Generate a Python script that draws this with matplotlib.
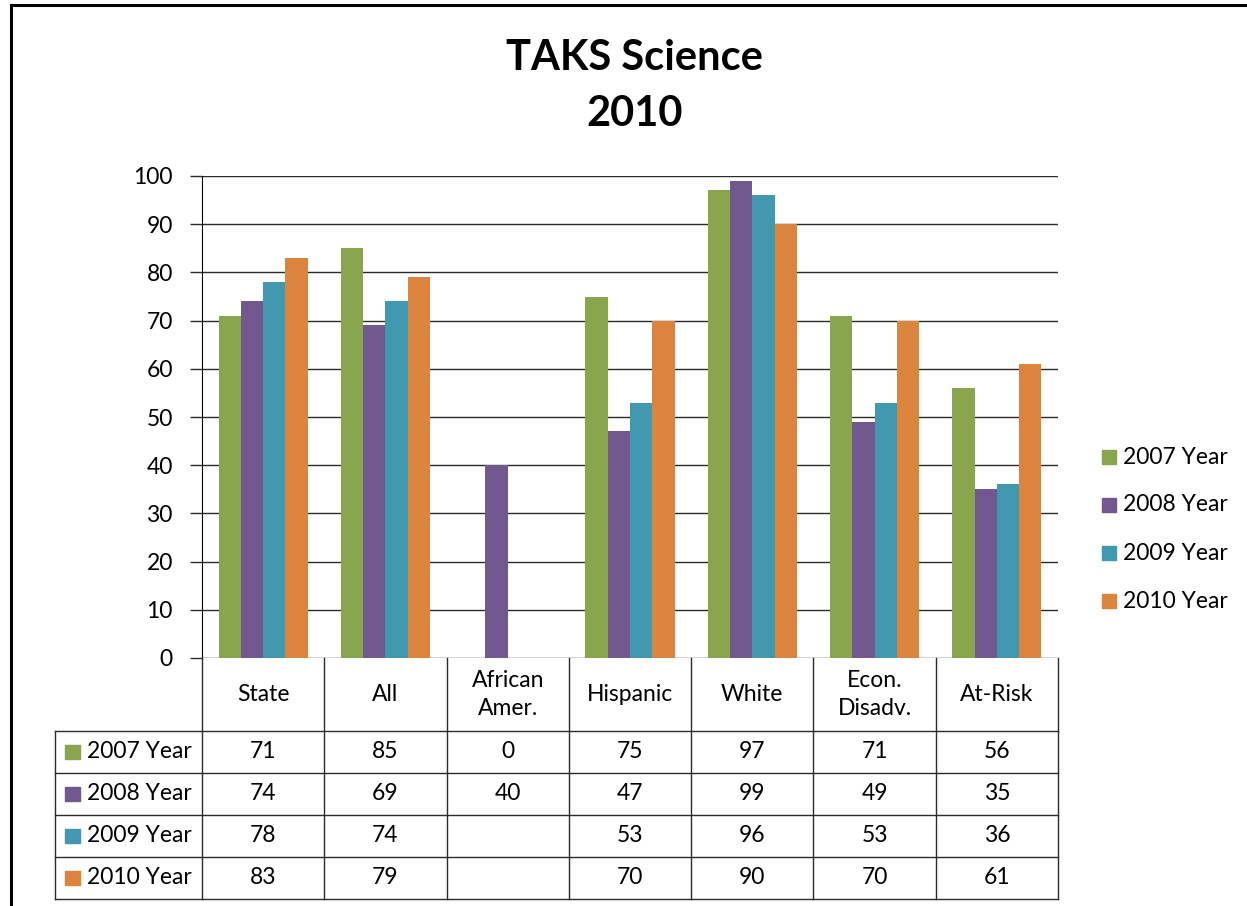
import numpy as np
import matplotlib.pyplot as plt
from matplotlib.patches import Rectangle

categories = ["State", "All", "African\nAmer.", "Hispanic", "White", "Econ.\nDisadv.", "At-Risk"]
years = ["2007 Year", "2008 Year", "2009 Year", "2010 Year"]
y2007 = [71, 85, 0, 75, 97, 71, 56]
y2008 = [74, 69, 40, 47, 99, 49, 35]
y2009 = [78, 74, np.nan, 53, 96, 53, 36]
y2010 = [83, 79, np.nan, 70, 90, 70, 61]
series = [y2007, y2008, y2009, y2010]
colors = ["#89A54E", "#71588F", "#4198AF", "#DB843D"]

W, H = 1247, 906
FS = 16.5
plt.rcParams["font.family"] = ["Lato", "DejaVu Sans"]

fig = plt.figure(figsize=(W / 100, H / 100), dpi=100)


def fx(px):
    return px / W


def fy(py):
    return 1 - py / H


# outer frame (runs past the right/bottom edge of the picture)
fig.patches.append(Rectangle((fx(11), fy(1000)), 1.2, fy(5) - fy(1000),
                             transform=fig.transFigure, fill=False,
                             edgecolor="black", linewidth=2.2))

ax = fig.add_axes([fx(202), fy(658), fx(1058) - fx(202), fy(176) - fy(658)])

x = np.arange(len(categories))
bw = 0.1825
for i, (vals, c, lab) in enumerate(zip(series, colors, years)):
    ax.bar(x + (i - 1.5) * bw, vals, width=bw, color=c, label=lab, zorder=3)

ax.set_xlim(-0.5, len(categories) - 0.5)
ax.set_ylim(0, 100)
ax.set_yticks(range(0, 101, 10))
ax.set_xticks([])
ax.yaxis.grid(True, color="#2b2b2b", linewidth=1.0, zorder=0)
for s in ["top", "right", "bottom"]:
    ax.spines[s].set_visible(False)
ax.spines["left"].set_color("black")
ax.tick_params(axis="y", length=9, width=1, color="#2b2b2b", labelsize=FS, pad=12)

fig.text(fx(635), fy(58), "TAKS Science", ha="center", va="center",
         fontsize=30, fontweight="bold")
fig.text(fx(635), fy(114), "2010", ha="center", va="center",
         fontsize=30, fontweight="bold")

# legend on the right
leg_y = [457, 505, 553, 601]
for lab, c, ly in zip(years, colors, leg_y):
    fig.patches.append(Rectangle((fx(1102), fy(ly + 7)), fx(14), fy(ly - 7) - fy(ly + 7),
                                 transform=fig.transFigure, color=c))
    fig.text(fx(1123), fy(ly), lab, ha="left", va="center", fontsize=FS)

# data table under the plot
col_w = (1058 - 202) / len(categories)
col_edges = [202 + k * col_w for k in range(len(categories) + 1)]
head_top, head_bot = 658, 731
row_edges = [731, 773, 815, 857, 899]
lab_left = 55
lw = 1.0
lc = "#2b2b2b"


def hline(y, x0, x1):
    fig.add_artist(plt.Line2D([fx(x0), fx(x1)], [fy(y), fy(y)], color=lc, lw=lw))


def vline(x0, y0, y1):
    fig.add_artist(plt.Line2D([fx(x0), fx(x0)], [fy(y0), fy(y1)], color=lc, lw=lw))


for xe in col_edges:
    vline(xe, head_top, row_edges[-1])
for ry in row_edges:
    hline(ry, lab_left, 1058)
vline(lab_left, row_edges[0], row_edges[-1])

for k, cat in enumerate(categories):
    cx = (col_edges[k] + col_edges[k + 1]) / 2
    fig.text(fx(cx), fy((head_top + head_bot) / 2), cat, ha="center", va="center",
             fontsize=FS, linespacing=1.4)

for r, (vals, c, lab) in enumerate(zip(series, colors, years)):
    cy = (row_edges[r] + row_edges[r + 1]) / 2
    fig.patches.append(Rectangle((fx(65), fy(cy + 7)), fx(15), fy(cy - 7) - fy(cy + 7),
                                 transform=fig.transFigure, color=c))
    fig.text(fx(87), fy(cy), lab, ha="left", va="center", fontsize=FS)
    for k, v in enumerate(vals):
        if np.isnan(v):
            continue
        cx = (col_edges[k] + col_edges[k + 1]) / 2
        fig.text(fx(cx), fy(cy), f"{int(v)}", ha="center", va="center", fontsize=FS)

fig.savefig("out.png", dpi=100)
